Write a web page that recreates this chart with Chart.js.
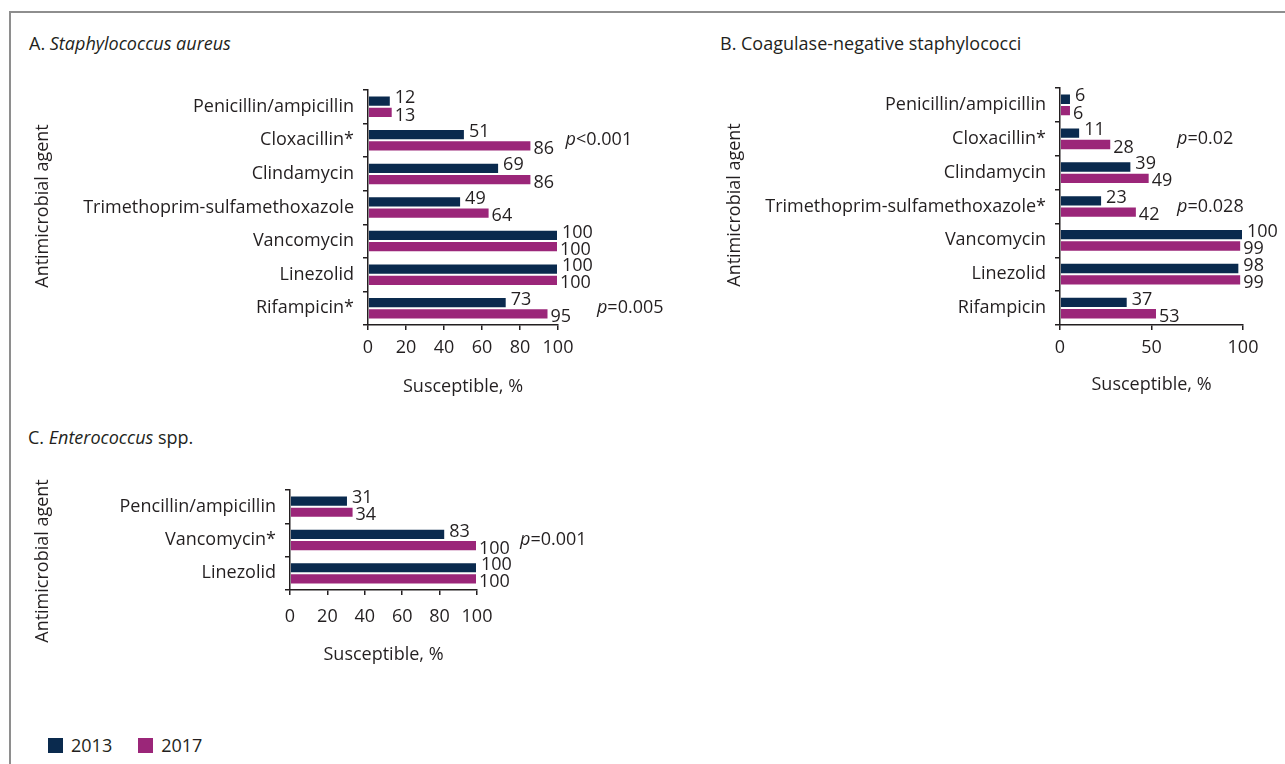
<!DOCTYPE html>
<html>
<head>
<meta charset="utf-8">
<title>Antimicrobial susceptibility, 2013 vs 2017</title>
<script src="https://cdn.jsdelivr.net/npm/chart.js@4.4.1/dist/chart.umd.min.js"></script>
<style>
  html, body { margin: 0; padding: 0; background: #ffffff; }
  body { width: 1285px; height: 764px; position: relative; overflow: hidden;
         font-family: 'Open Sans', sans-serif; color: #231f20; }
  .frame { position: absolute; left: 9px; top: 11px; width: 1300px; height: 800px;
           border-top: 2px solid #8e8e8e; border-left: 2px solid #8e8e8e; box-sizing: border-box; }
  .panel-title { position: absolute; font-size: 18px; line-height: 22px; white-space: nowrap; }
  .chart-box { position: absolute; }
  .chart-box canvas { display: block; }
  .legend { position: absolute; left: 48px; top: 736px; height: 18px; display: flex; align-items: center;
            font-size: 18px; line-height: 18px; }
  .legend .sw { width: 15px; height: 15px; display: inline-block; margin-right: 8px; }
  .legend .item { display: flex; align-items: center; margin-right: 26px; }
</style>
</head>
<body>
<div class="frame"></div>

<div class="panel-title" style="left:29px; top:32px;">A. <i>Staphylococcus aureus</i></div>
<div class="panel-title" style="left:720px; top:32px;">B. Coagulase-negative staphylococci</div>
<div class="panel-title" style="left:28px; top:426px;">C. <i>Enterococcus</i> spp.</div>

<div class="chart-box" style="left:20px; top:60px;"><canvas id="chartA" width="680" height="345"></canvas></div>
<div class="chart-box" style="left:700px; top:60px;"><canvas id="chartB" width="585" height="345"></canvas></div>
<div class="chart-box" style="left:20px; top:460px;"><canvas id="chartC" width="600" height="220"></canvas></div>

<div class="legend" id="legend"></div>

<script>
// ---- Data -------------------------------------------------------------
const years = ['2013', '2017'];

// A. Staphylococcus aureus
const aAgents = ['Penicillin/ampicillin', 'Cloxacillin*', 'Clindamycin',
                 'Trimethoprim-sulfamethoxazole', 'Vancomycin', 'Linezolid', 'Rifampicin*'];
const a2013 = [12, 51, 69, 49, 100, 100, 73];
const a2017 = [13, 86, 86, 64, 100, 100, 95];
const aPText = [null, '<0.001', null, null, null, null, '=0.005'];
const aTickStep = 20;

// B. Coagulase-negative staphylococci
const bAgents = ['Penicillin/ampicillin', 'Cloxacillin*', 'Clindamycin',
                 'Trimethoprim-sulfamethoxazole*', 'Vancomycin', 'Linezolid', 'Rifampicin'];
const b2013 = [6, 11, 39, 23, 100, 98, 37];
const b2017 = [6, 28, 49, 42, 99, 99, 53];
const bPText = [null, '=0.02', null, '=0.028', null, null, null];
const bTickStep = 50;

// C. Enterococcus spp.
const cAgents = ['Pencillin/ampicillin', 'Vancomycin*', 'Linezolid'];
const c2013 = [31, 83, 100];
const c2017 = [34, 100, 100];
const cPText = [null, '=0.001', null];
const cTickStep = 20;

// ---- Styling ----------------------------------------------------------
const INK = '#231f20';
const NAVY = '#0a2a4e';
const PLUM = '#9b2679';
const FONT = "'Open Sans', sans-serif";
const SIZE = 18;

Chart.defaults.font.family = FONT;
Chart.defaults.font.size = SIZE;
Chart.defaults.color = INK;

// Bar-end values, italic-p annotations and the rotated axis title.
const annotations = {
  id: 'annotations',
  afterDatasetsDraw(chart, args, opts) {
    const ctx = chart.ctx;
    const xs = chart.scales.x, ys = chart.scales.y;
    const regular = SIZE + "px " + FONT;
    ctx.save();
    ctx.fillStyle = INK;
    ctx.textBaseline = 'middle';
    ctx.textAlign = 'left';
    ctx.font = regular;
    chart.data.datasets.forEach((ds, di) => {
      chart.getDatasetMeta(di).data.forEach((bar, i) => {
        const dx = di === 0 ? 4 : 2;
        const dy = di === 0 ? -3 : 3;
        ctx.fillText(String(ds.data[i]), bar.x + dx, bar.y + dy);
      });
    });
    (opts.pText || []).forEach((t, i) => {
      if (!t) return;
      const x = xs.getPixelForValue(opts.pAt[i]);
      const y = ys.getPixelForValue(i);
      ctx.font = "italic " + regular;
      ctx.fillText('p', x, y);
      const w = ctx.measureText('p').width;
      ctx.font = regular;
      ctx.fillText(t, x + w, y);
    });
    if (opts.yTitle) {
      ctx.translate(opts.yTitle.x, opts.yTitle.y);
      ctx.rotate(-Math.PI / 2);
      ctx.textAlign = 'center';
      ctx.font = regular;
      ctx.fillText(opts.yTitle.text, 0, 0);
    }
    ctx.restore();
  }
};

function makeChart(id, agents, v2013, v2017, tickStep, frame, pText, pAt, yTitlePos) {
  const canvas = document.getElementById(id);
  const W = canvas.width, H = canvas.height;
  const yAxisWidth = frame.left;          // chart area starts here
  const xAxisHeight = H - frame.bottom;   // space under the plot
  return new Chart(canvas, {
    type: 'bar',
    data: {
      labels: agents,
      datasets: [
        { label: years[0], data: v2013, backgroundColor: NAVY, borderColor: 'rgba(255,255,255,0.3)', borderWidth: 1 },
        { label: years[1], data: v2017, backgroundColor: PLUM, borderColor: 'rgba(255,255,255,0.3)', borderWidth: 1 }
      ]
    },
    options: {
      indexAxis: 'y',
      responsive: false,
      animation: false,
      events: [],
      datasets: { bar: { categoryPercentage: 0.67, barPercentage: 1.0 } },
      layout: { padding: { left: 0, top: frame.top, right: W - frame.right, bottom: 0 } },
      plugins: {
        legend: { display: false },
        tooltip: { enabled: false },
        annotations: { pText: pText, pAt: pAt,
                       yTitle: { text: 'Antimicrobial agent', x: yTitlePos[0], y: yTitlePos[1] } }
      },
      scales: {
        x: {
          min: 0, max: 100,
          ticks: { stepSize: tickStep, padding: frame.tickPad, color: INK, font: { size: SIZE } },
          grid: { drawOnChartArea: false, tickLength: 5, color: INK, lineWidth: 1.5 },
          border: { color: INK, width: 1.5 },
          title: { display: true, text: 'Susceptible, %', color: INK, font: { size: SIZE },
                   padding: { top: 0, bottom: frame.titlePad } },
          afterFit(scale) { scale.height = xAxisHeight; }
        },
        y: {
          ticks: { padding: 9, color: INK, font: { size: SIZE }, autoSkip: false },
          grid: { drawOnChartArea: false, tickLength: 5, color: INK, lineWidth: 1.5, offset: true },
          border: { color: INK, width: 1.5 },
          afterFit(scale) { scale.width = yAxisWidth; }
        }
      }
    },
    plugins: [annotations]
  });
}

// Plot frames are given in canvas coordinates.
makeChart('chartA', aAgents, a2013, a2017, aTickStep,
          { left: 348, top: 30, right: 538, bottom: 265, tickPad: 7, titlePad: 7 },
          aPText, [null, 104, null, null, null, null, 120.5], [23, 146]);
makeChart('chartB', bAgents, b2013, b2017, bTickStep,
          { left: 360, top: 28, right: 543, bottom: 265, tickPad: 7, titlePad: 9 },
          bPText, [null, 64, null, 64, null, null, null], [35, 145]);
makeChart('chartC', cAgents, c2013, c2017, cTickStep,
          { left: 270, top: 30, right: 457, bottom: 130, tickPad: 11, titlePad: 14 },
          cPText, [null, 123, null], [23, 101]);

// Shared legend
const legend = document.getElementById('legend');
[[years[0], NAVY], [years[1], PLUM]].forEach(([label, color]) => {
  const item = document.createElement('span');
  item.className = 'item';
  const sw = document.createElement('span');
  sw.className = 'sw';
  sw.style.background = color;
  item.appendChild(sw);
  item.appendChild(document.createTextNode(label));
  legend.appendChild(item);
});
</script>
</body>
</html>
